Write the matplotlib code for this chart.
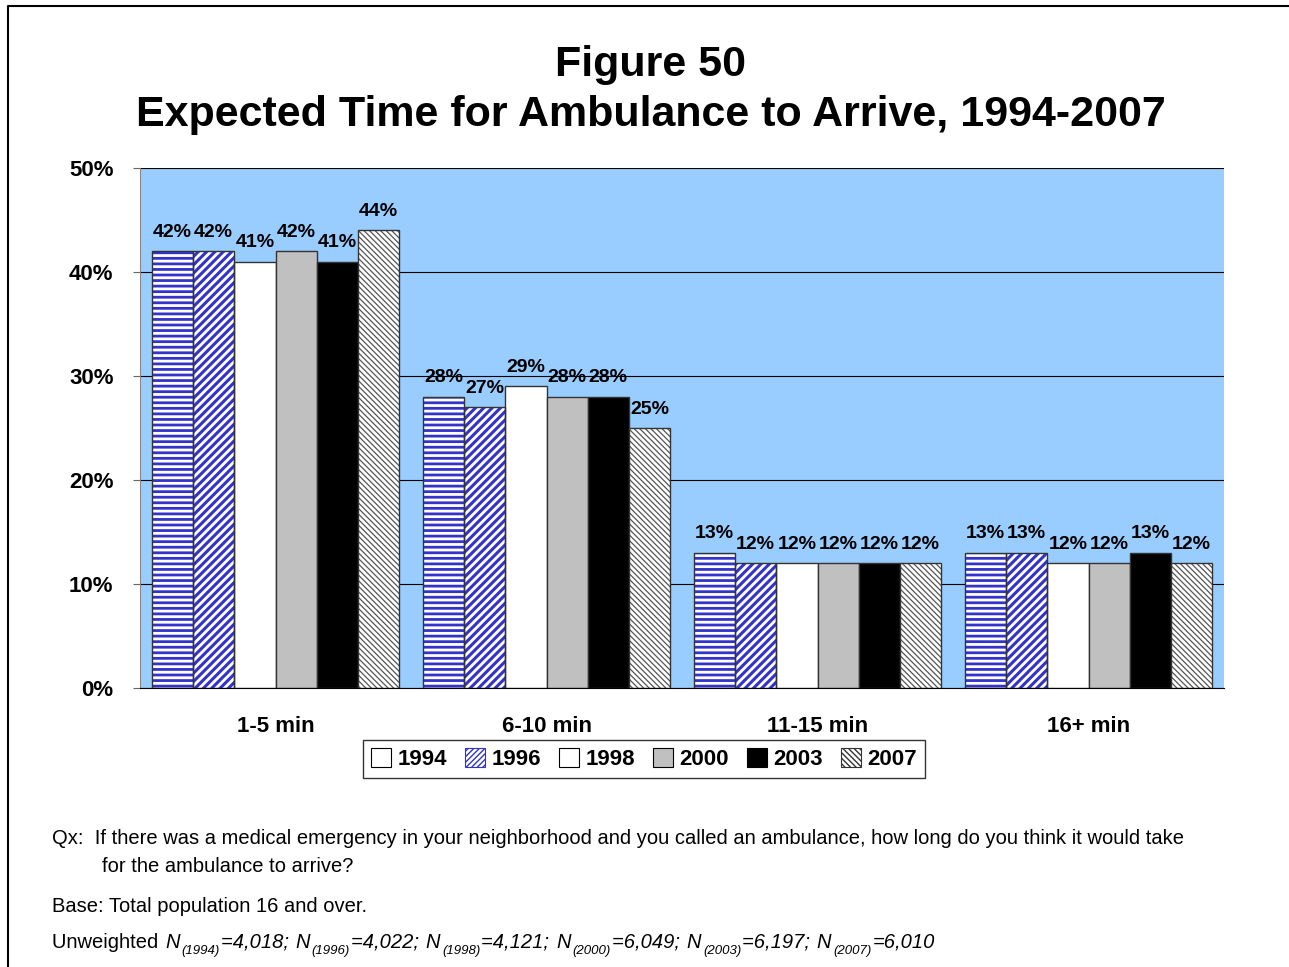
import numpy as np
import matplotlib.pyplot as plt
from matplotlib.patches import Patch
from matplotlib.lines import Line2D

plt.rcParams['font.family'] = ['Liberation Sans', 'DejaVu Sans']
plt.rcParams['hatch.linewidth'] = 2.0

# data
categories = ['1-5 min', '6-10 min', '11-15 min', '16+ min']
years = ['1994', '1996', '1998', '2000', '2003', '2007']
v1994 = [42, 28, 13, 13]
v1996 = [42, 27, 12, 13]
v1998 = [41, 29, 12, 12]
v2000 = [42, 28, 12, 12]
v2003 = [41, 28, 12, 13]
v2007 = [44, 25, 12, 12]
series = [v1994, v1996, v1998, v2000, v2003, v2007]

# (face, hatch, hatch colour, hatch linewidth)
styles = [
    ('white', '---', '#3333CC', 2.0),
    ('white', '////', '#3333CC', 2.2),
    ('white', None, None, None),
    ('#C0C0C0', None, None, None),
    ('black', None, None, None),
    ('white', '\\\\\\\\\\\\', '#555555', 0.9),
]

fig = plt.figure(figsize=(12.89, 9.67), dpi=100)
ax = fig.add_axes([140 / 1289, 1 - 688 / 967, 1084 / 1289, 520 / 967])
ax.set_facecolor('#99CCFF')

x = np.arange(len(categories))
bw = 0.152
offsets = (np.arange(len(years)) - 2.5) * bw

for i, vals in enumerate(series):
    face, hatch, hcol, hlw = styles[i]
    pos = x + offsets[i]
    h = np.array(vals) / 100
    if hatch:
        with plt.rc_context({'hatch.linewidth': hlw}):
            bars = ax.bar(pos, h, bw, color=face, hatch=hatch, edgecolor=hcol, linewidth=0, zorder=2)
            for b in bars:
                if hasattr(b, 'set_hatch_linewidth'):
                    b.set_hatch_linewidth(hlw)
        ax.bar(pos, h, bw, fill=False, edgecolor='#333333', linewidth=1.0, zorder=3)
    else:
        ax.bar(pos, h, bw, color=face, edgecolor='#333333', linewidth=1.0, zorder=2)
    for p, v in zip(pos, vals):
        ax.text(p, v / 100 + 0.01, f'{v}%', ha='center', va='bottom',
                fontsize=14, fontweight='bold', zorder=4)

ax.set_xlim(-0.5, len(categories) - 0.5)
ax.set_ylim(0, 0.5)
ticks = np.arange(0, 0.51, 0.1)
ax.set_yticks(ticks)
ax.set_yticklabels([f'{int(round(t * 100))}%' for t in ticks], fontsize=16, fontweight='bold')
ax.set_xticks(x)
ax.set_xticklabels(categories, fontsize=16, fontweight='bold')
ax.tick_params(axis='x', length=0, pad=20)
ax.tick_params(axis='y', length=5, direction='out', pad=14, color='#666666')
ax.yaxis.grid(True, color='black', linewidth=0.8, zorder=1)
ax.set_axisbelow(True)
for s in ['top', 'right']:
    ax.spines[s].set_visible(False)
ax.spines['left'].set_color('#888888')
ax.spines['bottom'].set_color('black')

fig.text(0.505, 1 - 65 / 967, 'Figure 50', ha='center', va='center',
         fontsize=31, fontweight='bold')
fig.text(0.505, 1 - 115 / 967, 'Expected Time for Ambulance to Arrive, 1994-2007',
         ha='center', va='center', fontsize=31, fontweight='bold')

handles = []
for face, hatch, hcol, hlw in styles:
    if hatch == '////':
        handles.append(Patch(facecolor=face, hatch='//////', edgecolor=hcol, linewidth=0.8))
    elif hatch and hcol == '#555555':
        handles.append(Patch(facecolor=face, hatch='\\\\\\\\\\\\', edgecolor='#333333', linewidth=0.8))
    else:
        handles.append(Patch(facecolor=face, edgecolor='black', linewidth=0.8))
with plt.rc_context({'hatch.linewidth': 1.0}):
    leg = fig.legend(handles, years, loc='center', bbox_to_anchor=(644 / 1289, 1 - 759 / 967),
                     ncol=6, frameon=True, fancybox=False, edgecolor='black',
                     prop={'size': 16, 'weight': 'bold'}, handlelength=0.9, handleheight=0.9,
                     handletextpad=0.3, columnspacing=0.8, borderpad=0.35)
leg.get_frame().set_linewidth(1.0)

fs_note = 14.5
fig.text(52 / 1289, 1 - 839 / 967,
         'Qx:  If there was a medical emergency in your neighborhood and you called an ambulance, '
         'how long do you think it would take', fontsize=fs_note, va='center')
fig.text(102 / 1289, 1 - 866 / 967, 'for the ambulance to arrive?', fontsize=fs_note, va='center')
fig.text(52 / 1289, 1 - 906 / 967, 'Base: Total population 16 and over.', fontsize=fs_note, va='center')

# sample sizes line: pieces placed one after another
sizes = [('1994', '4,018'), ('1996', '4,022'), ('1998', '4,121'),
         ('2000', '6,049'), ('2003', '6,197'), ('2007', '6,010')]
pieces = [('Unweighted ', 'normal', fs_note, 0)]
for k, (yr, n) in enumerate(sizes):
    pieces.append(('N', 'italic', fs_note, 0))
    pieces.append((f'({yr})', 'italic', 9.5, -6))
    pieces.append(('=%s%s' % (n, '; ' if k < len(sizes) - 1 else ''), 'italic', fs_note, 0))

renderer = fig.canvas.get_renderer()
xpx = 52
base_y = 943 + 5
for txt, style, fs, dy in pieces:
    t = fig.text(xpx / 1289, 1 - (base_y - dy) / 967, txt, fontsize=fs, style=style,
                 va='baseline', ha='left')
    xpx += t.get_window_extent(renderer).width + (2 if txt == 'N' else 1)

# figure border (top and left visible)
fig.add_artist(Line2D([8 / 1289, 8 / 1289, 1.0], [0.0, 1 - 6 / 967, 1 - 6 / 967],
                      transform=fig.transFigure, color='black', linewidth=1.5))

fig.savefig('out.png', dpi=100, facecolor='white')
